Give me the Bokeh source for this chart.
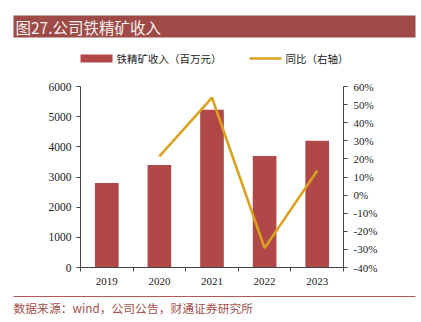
from bokeh.plotting import figure
from bokeh.layouts import column
from bokeh.models import (ColumnDataSource, LinearAxis, Range1d, FixedTicker,
                          PrintfTickFormatter, Label)
from bokeh.core.properties import value
from bokeh.embed import file_html
from bokeh.resources import INLINE

# ---- data ----
years = ["2019", "2020", "2021", "2022", "2023"]
revenue = [2800, 3400, 5230, 3700, 4200]          # 铁精矿收入（百万元）
yoy = [float("nan"), 21.4, 53.8, -29.3, 13.5]     # 同比（%）
left_ticks = [0, 1000, 2000, 3000, 4000, 5000, 6000]
right_ticks = [-40, -30, -20, -10, 0, 10, 20, 30, 40, 50, 60]

title_text = "图27.公司铁精矿收入"
source_text = "数据来源：wind，公司公告，财通证券研究所"
bar_label = "铁精矿收入（百万元）"
line_label = "同比（右轴）"

# ---- style ----
BAR = "#B0484A"
LINE = "#DAA21E"
TITLE_BG = "#9E4B47"
FOOT = "#A4504C"
FOOT_LINE = "#B45A55"
AX = "#444444"
W = 421
TOP_H, MAIN_H, BOT_H = 70, 222, 30
FL, FR = 80, 343
CJK = "Noto Sans CJK SC"


def blank_fig(h):
    f = figure(width=W, height=h, output_backend="svg", toolbar_location=None,
               x_range=Range1d(0, W), y_range=Range1d(h, 0),
               x_axis_type=None, y_axis_type=None, frame_align=False,
               min_border=0, min_border_left=0, min_border_right=0,
               min_border_top=0, min_border_bottom=0)
    f.xgrid.visible = False
    f.ygrid.visible = False
    f.outline_line_color = None
    f.background_fill_color = "white"
    f.border_fill_color = "white"
    return f


# ---- top: title bar + legend ----
top = blank_fig(TOP_H)
top.quad(left=[13], right=[415], top=[15], bottom=[37], fill_color=TITLE_BG, line_color=None)
top.add_layout(Label(x=15, y=26.5, text=title_text, text_color="#F6F0F0",
                     text_font=CJK, text_font_size="15.5px", text_baseline="middle"))
# legend (drawn as key swatches + labels)
top.quad(left=[80], right=[112], top=[54], bottom=[62], fill_color=BAR, line_color=None)
top.segment(x0=[249], y0=[58], x1=[281], y1=[58], line_color=LINE, line_width=2.6)
top.text(x=[116, 285], y=[58, 58], text=[bar_label, line_label],
         text_font=value(CJK), text_font_size="10.5px", text_baseline="middle",
         text_color="#222222")

# ---- main chart ----
xs = list(range(len(years)))
src = ColumnDataSource(dict(x=xs, rev=revenue, yoy=yoy))

p = figure(width=W, height=MAIN_H, output_backend="svg", toolbar_location=None,
           x_range=Range1d(-0.5, len(years) - 0.5),
           y_range=Range1d(left_ticks[0], left_ticks[-1]), frame_align=False,
           min_border_left=FL, min_border_right=W - FR,
           min_border_top=86 - TOP_H, min_border_bottom=TOP_H + MAIN_H - 267)
p.xgrid.visible = False
p.ygrid.visible = False
p.outline_line_color = None
p.background_fill_color = "white"
p.border_fill_color = "white"

p.vbar(x="x", top="rev", width=0.45, source=src, fill_color=BAR, line_color=None)
p.extra_y_ranges = {"yoy": Range1d(right_ticks[0], right_ticks[-1])}
p.line(x="x", y="yoy", source=src, y_range_name="yoy", line_color=LINE, line_width=2.6)

ya = p.yaxis[0]
ya.ticker = FixedTicker(ticks=left_ticks)
ya.major_tick_out = 4
ya.major_tick_in = 0
ya.minor_tick_out = 0
ya.minor_tick_in = 0
ya.axis_line_color = AX
ya.major_tick_line_color = AX
ya.major_label_text_font = "Liberation Serif"
ya.major_label_text_font_size = "11.5px"
ya.major_label_text_color = "#222222"
ya.major_label_standoff = 5

ra = LinearAxis(y_range_name="yoy", ticker=FixedTicker(ticks=right_ticks),
                formatter=PrintfTickFormatter(format="%d%%"))
ra.major_tick_out = 4
ra.major_tick_in = 0
ra.minor_tick_out = 0
ra.minor_tick_in = 0
ra.axis_line_color = AX
ra.major_tick_line_color = AX
ra.major_label_text_font = "Liberation Serif"
ra.major_label_text_font_size = "11px"
ra.major_label_text_color = "#222222"
ra.major_label_standoff = 6
p.add_layout(ra, "right")

xa = p.xaxis[0]
xa.ticker = FixedTicker(ticks=xs, minor_ticks=[i - 0.5 for i in range(len(years) + 1)])
xa.major_label_overrides = {i: y for i, y in zip(xs, years)}
xa.major_tick_out = 0
xa.major_tick_in = 0
xa.minor_tick_out = 4
xa.minor_tick_in = 0
xa.axis_line_color = AX
xa.minor_tick_line_color = AX
xa.major_label_text_font = "Liberation Serif"
xa.major_label_text_font_size = "11px"
xa.major_label_text_color = "#222222"
xa.major_label_standoff = 6

# ---- bottom: source line ----
bot = blank_fig(BOT_H)
bot.quad(left=[13], right=[415], top=[3.5], bottom=[4.5], fill_color=FOOT_LINE, line_color=None)
bot.add_layout(Label(x=13, y=15, text=source_text, text_color=FOOT,
                     text_font=CJK, text_font_size="11.8px", text_baseline="middle"))

layout = column(top, p, bot, spacing=0)
open("out.html", "w").write(file_html(layout, INLINE))
